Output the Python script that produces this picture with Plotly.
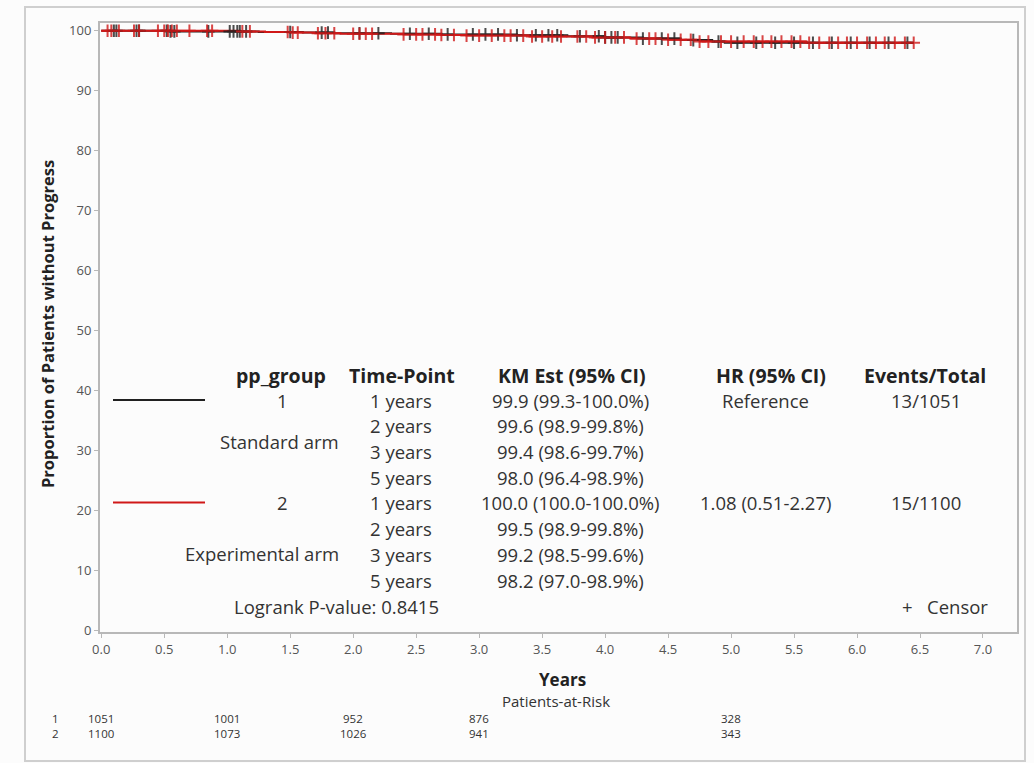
import numpy as np
import plotly.graph_objects as go

# ---------------- data ----------------
std_times = [0, 0.55, 1.25, 1.6, 1.85, 2.3, 2.7, 3.3, 3.7, 4.0, 4.3, 4.6, 4.85, 4.95, 6.45]
std_surv = [100, 99.9, 99.8, 99.7, 99.6, 99.5, 99.4, 99.25, 99.1, 98.9, 98.7, 98.45, 98.2, 98.0, 98.0]

exp_times = [0, 1.1, 1.3, 1.5, 1.7, 1.9, 2.4, 2.7, 2.9, 3.4, 3.9, 4.2, 4.5, 4.75, 5.6, 6.45]
exp_surv = [100, 99.9, 99.8, 99.7, 99.6, 99.5, 99.4, 99.3, 99.2, 99.05, 98.9, 98.7, 98.5, 98.2, 98.0, 98.0]

std_censor = [0.1, 0.12, 0.28, 0.3, 0.52, 0.55, 0.58, 0.85, 1.02, 1.05, 1.08, 1.1, 1.15, 1.5,
              1.75, 1.8, 2.05, 2.2, 2.45, 2.6, 2.75, 2.95, 3.05, 3.15, 3.3, 3.45, 3.55, 3.62,
              3.8, 3.95, 4.0, 4.05, 4.1, 4.3, 4.45, 4.55, 4.7, 4.9, 5.05, 5.2, 5.35, 5.5, 5.65,
              5.8, 5.95, 6.1, 6.25, 6.4]
exp_censor = [0.05, 0.08, 0.14, 0.26, 0.3, 0.45, 0.5, 0.53, 0.56, 0.6, 0.7, 0.84, 0.88, 1.12,
              1.18, 1.48, 1.52, 1.56, 1.72, 1.78, 1.85, 2.0, 2.05, 2.1, 2.15, 2.4, 2.5, 2.55,
              2.65, 2.7, 2.8, 2.9, 3.0, 3.1, 3.2, 3.25, 3.35, 3.42, 3.5, 3.58, 3.65, 3.78, 3.85,
              3.92, 4.0, 4.08, 4.15, 4.25, 4.35, 4.4, 4.5, 4.6, 4.68, 4.75, 4.82, 4.92, 5.0,
              5.1, 5.18, 5.25, 5.32, 5.4, 5.48, 5.55, 5.62, 5.7, 5.78, 5.85, 5.92, 6.0, 6.08,
              6.15, 6.22, 6.3, 6.38, 6.45]

risk_times = [0, 1, 2, 3, 5]
risk_std = [1051, 1001, 952, 876, 328]
risk_exp = [1100, 1073, 1026, 941, 343]

x_ticks = [0, 0.5, 1, 1.5, 2, 2.5, 3, 3.5, 4, 4.5, 5, 5.5, 6, 6.5, 7]
y_ticks = [0, 10, 20, 30, 40, 50, 60, 70, 80, 90, 100]

table_headers = ["pp_group", "Time-Point", "KM Est (95% CI)", "HR (95% CI)", "Events/Total"]
time_points = ["1 years", "2 years", "3 years", "5 years"] * 2
km_est = ["99.9 (99.3-100.0%)", "99.6 (98.9-99.8%)", "99.4 (98.6-99.7%)", "98.0 (96.4-98.9%)",
          "100.0 (100.0-100.0%)", "99.5 (98.9-99.8%)", "99.2 (98.5-99.6%)", "98.2 (97.0-98.9%)"]
hr_vals = ["Reference", "1.08 (0.51-2.27)"]
events = ["13/1051", "15/1100"]
group_ids = ["1", "2"]
group_names = ["Standard arm", "Experimental arm"]
logrank = "Logrank P-value: 0.8415"

# ---------------- layout constants ----------------
W, H = 1034, 763
ML, MR, MT, MB = 100, 17, 23, 131
PW, PH = W - ML - MR, H - MT - MB
FONT = "Open Sans"
TXT = "#333333"
BLACK = "#202020"
RED = "#d01818"
ROWF = 18.5
HDRF = 19.5


def px(xp):
    return (xp - ML) / PW


def py(yp):
    return (H - MB - yp) / PH


def step_lookup(times, surv, t):
    idx = np.searchsorted(np.array(times), np.array(t), side="right") - 1
    return [surv[i] for i in idx]


def label(xp, yp, text, size, color=TXT, xanchor="center", **kw):
    return dict(x=px(xp), y=py(yp), xref="paper", yref="paper", text=text, showarrow=False,
                xanchor=xanchor, yanchor="middle", font=dict(family=FONT, size=size, color=color), **kw)


fig = go.Figure()

fig.add_trace(go.Scatter(x=std_times, y=std_surv, mode="lines", line=dict(color=BLACK, width=2, shape="hv"),
                         showlegend=False, hoverinfo="skip"))
fig.add_trace(go.Scatter(x=exp_times, y=exp_surv, mode="lines", line=dict(color=RED, width=2, shape="hv"),
                         showlegend=False, hoverinfo="skip"))
fig.add_trace(go.Scatter(x=std_censor, y=step_lookup(std_times, std_surv, std_censor), mode="markers",
                         marker=dict(symbol="cross-thin", size=9, line=dict(color=BLACK, width=2)),
                         opacity=0.8, showlegend=False, hoverinfo="skip"))
fig.add_trace(go.Scatter(x=exp_censor, y=step_lookup(exp_times, exp_surv, exp_censor), mode="markers",
                         marker=dict(symbol="cross-thin", size=9, line=dict(color=RED, width=2)),
                         opacity=0.8, showlegend=False, hoverinfo="skip"))

ann = []
shapes = []

# table headers
hdr_x = [281, 402, 572, 771, 925]
for h, xx in zip(table_headers, hdr_x):
    ann.append(label(xx, 375, "<b>%s</b>" % h, HDRF, color="#222"))

row_y = [400, 425.5, 451, 477, 502.5, 528, 554, 580]
for i in range(8):
    ann.append(label(401, row_y[i], time_points[i], ROWF))
    ann.append(label(570, row_y[i], km_est[i], ROWF))

for g in range(2):
    yy = row_y[4 * g]
    ann.append(label(282, yy, group_ids[g], ROWF))
    ann.append(label(765, yy, hr_vals[g], ROWF))
    ann.append(label(926, yy, events[g], ROWF))
    shapes.append(dict(type="line", xref="paper", yref="paper", x0=px(113), x1=px(205),
                       y0=py(yy), y1=py(yy), line=dict(color=[BLACK, RED][g], width=2)))

ann.append(label(341, 441, group_names[0], ROWF, xanchor="right"))
ann.append(label(341, 553, group_names[1], ROWF, xanchor="right"))
ann.append(label(336, 606, logrank, ROWF))
ann.append(label(990, 606, "+   Censor", ROWF, xanchor="right"))

# axis titles
ann.append(label(48, 324, "<b>Proportion of Patients without Progress</b>", 16.5, color="#222", textangle=-90))
ann.append(label(562, 680, "<b>Years</b>", 17, color="#222"))
ann.append(label(556, 701, "Patients-at-Risk", 15))

# at-risk table
for lab, vals, yy in (("1", risk_std, 718), ("2", risk_exp, 733)):
    ann.append(label(55, yy, lab, 11.5))
    for t, v in zip(risk_times, vals):
        ann.append(dict(x=t, y=py(yy), xref="x", yref="paper", text=str(v), showarrow=False,
                        xanchor="center", yanchor="middle", font=dict(family=FONT, size=11.5, color=TXT)))

# outer frame
shapes.append(dict(type="rect", xref="paper", yref="paper", x0=px(25), x1=px(1025), y0=py(761), y1=py(7),
                   line=dict(color="#cfcfcf", width=2), layer="below"))

fig.update_layout(
    width=W, height=H,
    margin=dict(l=ML, r=MR, t=MT, b=MB),
    paper_bgcolor="#fcfcfc", plot_bgcolor="#fcfcfc",
    annotations=ann, shapes=shapes,
    xaxis=dict(range=[-0.01, 7.27], tickvals=x_ticks, ticktext=["%.1f" % v for v in x_ticks],
               showgrid=False, zeroline=False, showline=True, linecolor="#b8b8b8", linewidth=2,
               mirror=True, ticks="outside", ticklen=4, tickcolor="#b8b8b8",
               tickfont=dict(family=FONT, size=13, color="#555")),
    yaxis=dict(range=[-0.2, 101.3], tickvals=y_ticks, showgrid=False, zeroline=False, showline=True,
               linecolor="#b8b8b8", linewidth=2, mirror=True, ticks="outside", ticklen=4,
               tickcolor="#b8b8b8", tickfont=dict(family=FONT, size=13, color="#555")),
)

fig.write_html("out.html")
